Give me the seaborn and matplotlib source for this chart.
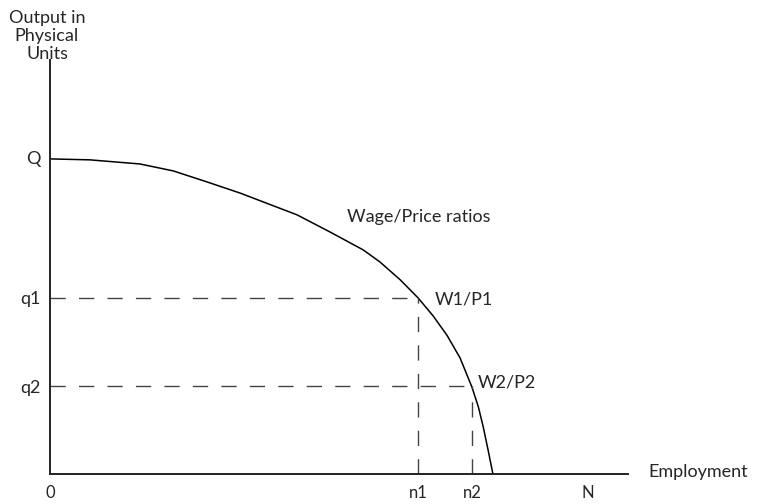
import matplotlib
matplotlib.use("Agg")
import matplotlib.pyplot as plt
import seaborn as sns
import pandas as pd

# values (arbitrary units)
curve_x = [0, 7.4, 16.7, 22.9, 29.2, 35.3, 39.6, 45.9, 52.0, 58.2, 61.3, 65.1, 68.4, 71.2,
           73.8, 76.2, 78.4, 79.6, 80.5, 81.4, 82.3]
curve_y = [99.7, 99.4, 98.1, 95.9, 92.4, 88.9, 86.1, 82.0, 76.6, 70.9, 67.1, 61.4, 55.7, 50.0,
           43.8, 36.7, 27.5, 21.2, 14.9, 7.6, 0]

x_ticks = [68.4, 78.4]
x_tick_labels = ['n1', 'n2']
x_end_ticks = [0, 100]
x_end_labels = ['0', 'N']
y_ticks = [27.8, 55.7, 100]
y_tick_labels = ['q2', 'q1', 'Q']
point_labels = ['W1/P1', 'W2/P2']
point_label_x = [71.4, 79.4]
point_label_y = [55.1, 28.8]

df = pd.DataFrame({'employment': curve_x, 'output': curve_y})

sns.set_style('white')
plt.rcParams['font.family'] = ['Lato', 'DejaVu Sans']

fig = plt.figure(figsize=(7.58, 5.04), dpi=100)
ax = fig.add_axes([0.066, 0.0595, 0.7625, 0.8215])

sns.lineplot(data=df, x='employment', y='output', sort=False, estimator=None,
             color='black', linewidth=1.1, ax=ax)

# dashed guide lines to the two wage/price points
dash = (0, (11, 9.5))
ax.hlines(y_ticks[:2][::-1], 0, x_ticks, colors='#444444', linewidth=1.0, linestyles=[dash])
ax.vlines(x_ticks, 0, y_ticks[:2][::-1], colors='#444444', linewidth=1.0, linestyles=[dash])

ax.set_xlim(0, 107.4)
ax.set_ylim(0, 131)
sns.despine(ax=ax)
for s in ['left', 'bottom']:
    ax.spines[s].set_color('#222222')
    ax.spines[s].set_linewidth(1.4)

ax.set_xticks(x_ticks)
ax.set_xticklabels(x_tick_labels)
ax.set_xticks(x_end_ticks, minor=True)
ax.set_xticklabels(x_end_labels, minor=True)
ax.tick_params(axis='x', which='major', direction='in', length=6, width=1, pad=8, labelsize=12)
ax.tick_params(axis='x', which='minor', direction='in', length=0, pad=8, labelsize=12)
ax.set_yticks(y_ticks)
ax.set_yticklabels(y_tick_labels)
ax.tick_params(axis='y', direction='in', length=5, width=1, pad=7, labelsize=13)
ax.set_xlabel('')
ax.set_ylabel('')

for lab, lx, ly in zip(point_labels, point_label_x, point_label_y):
    ax.text(lx, ly, lab, fontsize=13, va='center', ha='left')
ax.text(55.2, 81.3, 'Wage/Price ratios', fontsize=13, va='center', ha='left')
ax.text(111.2, 0.6, 'Employment', fontsize=13, va='center', ha='left', clip_on=False)
fig.text(47 / 758, 1 - 10 / 504, 'Output in\nPhysical\nUnits', fontsize=13,
         ha='center', va='top', linespacing=1.15)

fig.savefig('out.png', dpi=100)
